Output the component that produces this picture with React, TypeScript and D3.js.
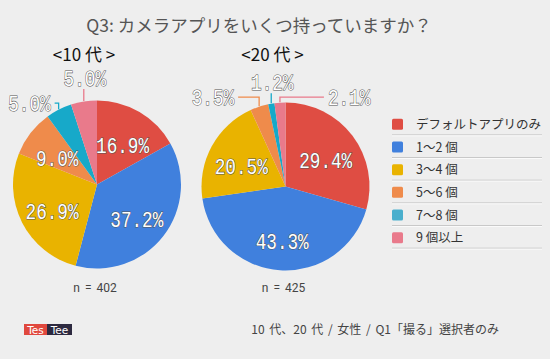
import React, { useEffect, useRef } from 'react';
import * as d3 from 'd3';

const categories = ['デフォルトアプリのみ', '1〜2 個', '3〜4 個', '5〜6 個', '7〜8 個', '9 個以上'];
const colors = ['#DF4D43', '#4080DD', '#E9B300', '#EF8B4B', '#17A9C9', '#E97A8B'];
const legendColors = ['#DF4D43', '#4080DD', '#E9B300', '#EF8B4B', '#4AAFCD', '#E97A8B'];

const teen = [16.9, 37.2, 26.9, 9.0, 5.0, 5.0];
const twenties = [29.4, 43.3, 20.5, 3.5, 1.2, 2.1];

const groups = [
  { title: '<10 代 >', n: 'n = 402', values: teen },
  { title: '<20 代 >', n: 'n = 425', values: twenties },
];

// where the leader goes for the slices too thin to hold a label
const teenCallouts: Record<number, { dir: string; rise: number; run: number }> = {
  4: { dir: 'left', rise: 6, run: 4 },
  5: { dir: 'up', rise: 12, run: 0 },
};
const twentiesCallouts: Record<number, { dir: string; rise: number; run: number }> = {
  3: { dir: 'left', rise: 9, run: 21 },
  4: { dir: 'up', rise: 10, run: 0 },
  5: { dir: 'right', rise: 5, run: 44 },
};
const callouts = [teenCallouts, twentiesCallouts];

const W = 550;
const H = 359;

const App = () => {
  const svgRef = useRef<SVGSVGElement>(null);

  useEffect(() => {
    const svg = d3.select(svgRef.current);
    svg.selectAll('*').remove();

    svg.append('rect').attr('width', W).attr('height', H).attr('fill', '#EEEEEE');

    const jp = '"Noto Sans CJK JP", "Noto Sans", sans-serif';

    svg.append('text')
      .attr('x', 259).attr('y', 32)
      .attr('text-anchor', 'middle')
      .attr('font-family', jp).attr('font-size', 17.5)
      .attr('fill', '#555')
      .text('Q3: カメラアプリをいくつ持っていますか？');

    const centers = [{ x: 97, y: 184.5 }, { x: 285.5, y: 186.5 }];
    const r = 84;

    const pie = d3.pie<number>().sort(null).value(d => d);
    const arc = d3.arc<d3.PieArcDatum<number>>().innerRadius(0).outerRadius(r);

    const pctLabel = (g: any, text: string, x: number, y: number, anchor: string) => {
      g.append('text')
        .attr('x', x).attr('y', y)
        .attr('dy', '0.36em')
        .attr('text-anchor', anchor)
        .attr('font-family', '"Liberation Mono", monospace')
        .attr('font-size', 22)
        .attr('textLength', text.length * 10.6)
        .attr('lengthAdjust', 'spacingAndGlyphs')
        .attr('fill', '#fff')
        .attr('stroke', '#555')
        .attr('stroke-width', 1.1)
        .attr('paint-order', 'stroke')
        .text(text);
    };

    groups.forEach((grp, gi) => {
      const c = centers[gi];

      svg.append('text')
        .attr('x', c.x - 13).attr('y', 61)
        .attr('text-anchor', 'middle')
        .attr('font-family', jp).attr('font-size', 17)
        .attr('fill', '#111')
        .text(grp.title);

      const g = svg.append('g').attr('transform', `translate(${c.x},${c.y})`);
      const arcs = pie(grp.values);

      g.selectAll('path.slice')
        .data(arcs)
        .join('path')
        .attr('class', 'slice')
        .attr('d', arc)
        .attr('fill', (_d, i) => colors[i]);

      arcs.forEach((a, i) => {
        const text = `${grp.values[i].toFixed(1)}%`;
        const co = callouts[gi][i];
        const mid = (a.startAngle + a.endAngle) / 2;
        if (!co) {
          const lr = r * 0.6;
          pctLabel(g, text, Math.sin(mid) * lr, -Math.cos(mid) * lr + 4, 'middle');
          return;
        }
        const sx = Math.sin(mid) * (r + 0.5);
        const sy = -Math.cos(mid) * (r + 0.5);
        const ey = sy - co.rise;
        let pts: [number, number][];
        if (co.dir === 'up') {
          pts = [[sx, sy], [sx, ey]];
          pctLabel(g, text, sx + 1, ey - 11, 'middle');
        } else {
          const ex = co.dir === 'left' ? sx - co.run : sx + co.run;
          pts = [[sx, sy], [sx, ey], [ex, ey]];
          pctLabel(g, text, co.dir === 'left' ? ex - 4 : ex + 4, ey, co.dir === 'left' ? 'end' : 'start');
        }
        g.append('path')
          .attr('d', d3.line()(pts))
          .attr('fill', 'none')
          .attr('stroke', colors[i])
          .attr('stroke-width', 1.3);
      });

      svg.append('text')
        .attr('x', c.x - 2).attr('y', 292)
        .attr('text-anchor', 'middle')
        .attr('font-family', 'Roboto, sans-serif').attr('font-size', 12)
        .attr('fill', '#444')
        .attr('word-spacing', 2)
        .text(grp.n);
    });

    // legend
    const ly = d3.scaleBand<string>().domain(categories).range([113, 249]);
    const leg = svg.append('g');
    categories.forEach((cat, i) => {
      const y = (ly(cat) as number) + ly.bandwidth() / 2;
      leg.append('rect')
        .attr('x', 392).attr('y', y - 5.5)
        .attr('width', 11).attr('height', 11).attr('rx', 1.5)
        .attr('fill', legendColors[i]);
      leg.append('text')
        .attr('x', 416).attr('y', y)
        .attr('dy', '0.36em')
        .attr('font-family', jp).attr('font-size', 12.5)
        .attr('fill', '#333')
        .text(cat);
      leg.append('line')
        .attr('x1', 392).attr('x2', 542)
        .attr('y1', y + 10.5).attr('y2', y + 10.5)
        .attr('stroke', '#c8c8c8').attr('stroke-width', 1);
      leg.append('line')
        .attr('x1', 392).attr('x2', 542)
        .attr('y1', y + 11.5).attr('y2', y + 11.5)
        .attr('stroke', '#fafafa').attr('stroke-width', 1);
    });

    // logo
    const logo = svg.append('g').attr('transform', 'translate(24,324)');
    logo.append('rect').attr('width', 23).attr('height', 11).attr('fill', '#E0483E');
    logo.append('rect').attr('x', 23).attr('width', 25).attr('height', 11).attr('fill', '#2D2A40');
    logo.append('text').attr('x', 11.5).attr('y', 9.5).attr('text-anchor', 'middle')
      .attr('font-family', '"DejaVu Sans", sans-serif').attr('font-size', 10.5).attr('fill', '#fff').text('Tes');
    logo.append('text').attr('x', 35.5).attr('y', 9.5).attr('text-anchor', 'middle')
      .attr('font-family', '"DejaVu Sans", sans-serif').attr('font-size', 10.5).attr('fill', '#fff').text('Tee');

    svg.append('text')
      .attr('x', 499).attr('y', 334)
      .attr('text-anchor', 'end')
      .attr('font-family', jp).attr('font-size', 12)
      .attr('fill', '#444')
      .attr('word-spacing', 2)
      .text('10 代、20 代 / 女性 / Q1「撮る」選択者のみ');
  }, []);

  return (
    <svg
      ref={svgRef}
      width={W}
      height={H}
      style={{ position: 'absolute', left: 0, top: 0, display: 'block' }}
    />
  );
};

export default App;
